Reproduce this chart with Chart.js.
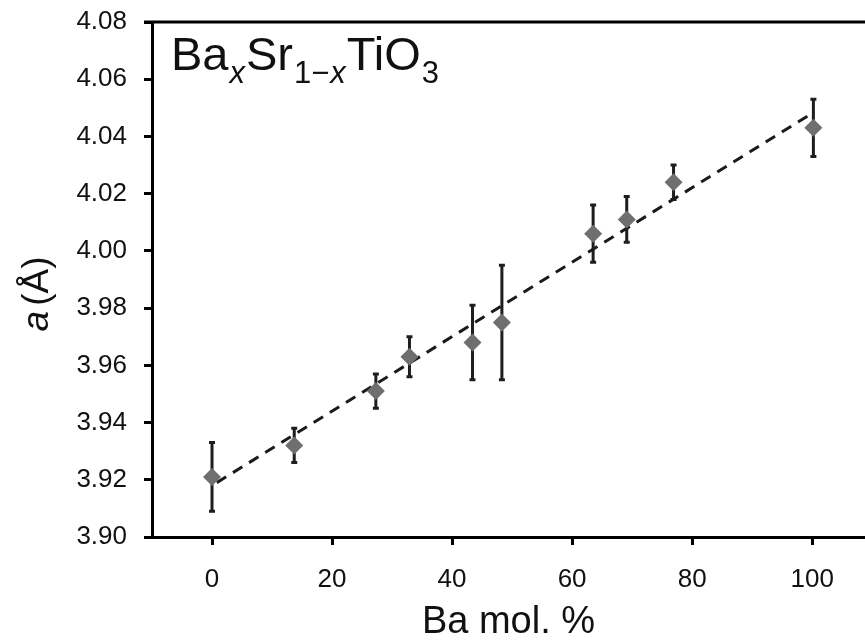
<!DOCTYPE html>
<html>
<head>
<meta charset="utf-8">
<script src="https://cdn.jsdelivr.net/npm/chart.js@4"></script>
<style>
   html, body { margin: 0; padding: 0; background: #ffffff; }
   #wrap { width: 865px; height: 642px; position: relative; }
</style>
</head>
<body>
<div id="wrap"><canvas id="chart"></canvas></div>
<script>
const baMol = [0, 13.7, 27.3, 32.9, 43.4, 48.3, 63.5, 69.1, 76.9, 100.2];
const latticeA = [3.921, 3.932, 3.951, 3.963, 3.968, 3.975, 4.006, 4.011, 4.024, 4.043];
const errHigh = [3.933, 3.938, 3.957, 3.970, 3.981, 3.995, 4.016, 4.019, 4.030, 4.053];
const errLow = [3.909, 3.926, 3.945, 3.956, 3.955, 3.955, 3.996, 4.003, 4.018, 4.033];

const fitX = [0.8, 99.9];
const fitY = [3.919, 4.048];

const xTicks = [0, 20, 40, 60, 80, 100];
const yTicks = [3.90, 3.92, 3.94, 3.96, 3.98, 4.00, 4.02, 4.04, 4.06, 4.08];

const FONT = "'Liberation Sans', Arial, sans-serif";

// error bars, drawn under the diamonds
const errorBars = {
   id: "errorBars",
   beforeDatasetsDraw(chart) {
      const { ctx, scales } = chart;
      ctx.save();
      ctx.strokeStyle = "#1e1e1e";
      ctx.lineWidth = 3;
      baMol.forEach((v, i) => {
         const x = scales.x.getPixelForValue(v);
         const yh = scales.y.getPixelForValue(errHigh[i]);
         const yl = scales.y.getPixelForValue(errLow[i]);
         ctx.beginPath();
         ctx.moveTo(x, yh);
         ctx.lineTo(x, yl);
         ctx.moveTo(x - 3, yh);
         ctx.lineTo(x + 3, yh);
         ctx.moveTo(x - 3, yl);
         ctx.lineTo(x + 3, yl);
         ctx.stroke();
      });
      ctx.restore();
   }
};

// frame top line, formula label and rotated y title
const decorations = {
   id: "decorations",
   afterDraw(chart) {
      const { ctx, chartArea } = chart;
      ctx.save();
      ctx.strokeStyle = "#000";
      ctx.lineWidth = 3;
      ctx.beginPath();
      ctx.moveTo(chartArea.left - 8, chartArea.top);
      ctx.lineTo(chartArea.right, chartArea.top);
      ctx.stroke();

      // Ba_x Sr_1-x TiO_3
      const parts = [
         { t: "Ba", f: "47px " + FONT, dy: 0 },
         { t: "x", f: "italic 31px " + FONT, dy: 13 },
         { t: "Sr", f: "47px " + FONT, dy: 0 },
         { t: "1\u2212", f: "31px " + FONT, dy: 13 },
         { t: "x", f: "italic 31px " + FONT, dy: 13 },
         { t: "TiO", f: "47px " + FONT, dy: 0 },
         { t: "3", f: "31px " + FONT, dy: 13 }
      ];
      let px = 171;
      const base = 70;
      ctx.fillStyle = "#111";
      ctx.textBaseline = "alphabetic";
      ctx.textAlign = "left";
      for (const p of parts) {
         ctx.font = p.f;
         ctx.fillText(p.t, px, base + p.dy);
         px += ctx.measureText(p.t).width + 1;
      }

      // y axis title: italic a + (Å)
      ctx.translate(48, 294);
      ctx.rotate(-Math.PI / 2);
      ctx.font = "italic 37px " + FONT;
      const w1 = ctx.measureText("a").width + 5;
      ctx.font = "37px " + FONT;
      const w2 = ctx.measureText("(\u00C5)").width;
      let sx = -(w1 + w2) / 2;
      ctx.font = "italic 37px " + FONT;
      ctx.fillText("a", sx, 0);
      ctx.font = "37px " + FONT;
      ctx.fillText("(\u00C5)", sx + w1, 0);
      ctx.restore();
   }
};

new Chart(document.getElementById("chart"), {
   type: "scatter",
   data: {
      datasets: [
         {
            data: baMol.map((v, i) => ({ x: v, y: latticeA[i] })),
            pointStyle: "rectRot",
            pointRadius: 9,
            pointBackgroundColor: "#6f6f6f",
            pointBorderWidth: 0,
            showLine: false
         },
         {
            type: "line",
            data: fitX.map((v, i) => ({ x: v, y: fitY[i] })),
            borderColor: "#1a1a1a",
            borderWidth: 3,
            borderDash: [11, 8],
            pointRadius: 0,
            fill: false
         }
      ]
   },
   options: {
      responsive: true,
      maintainAspectRatio: false,
      animation: false,
      layout: { autoPadding: false, padding: { top: 22, right: 0, left: 0, bottom: 0 } },
      plugins: {
         legend: { display: false },
         tooltip: { enabled: false }
      },
      scales: {
         x: {
            type: "linear",
            min: -10,
            max: 108.8,
            afterFit: s => { s.height = 105; s.paddingLeft = 0; s.paddingRight = 0; },
            afterBuildTicks: s => { s.ticks = xTicks.map(v => ({ value: v })); },
            grid: { display: true, drawOnChartArea: false, drawTicks: true, tickLength: 8, color: "#000", lineWidth: 3 },
            border: { display: true, color: "#000", width: 3 },
            ticks: { color: "#111", font: { family: FONT, size: 26 }, padding: 19 },
            title: {
               display: true,
               text: "Ba mol. %",
               color: "#111",
               font: { family: FONT, size: 38, lineHeight: 1.0 },
               padding: { top: 0, bottom: 0 }
            }
         },
         y: {
            type: "linear",
            min: 3.90,
            max: 4.08,
            afterFit: s => { s.width = 152; s.paddingTop = 0; s.paddingBottom = 0; },
            afterBuildTicks: s => { s.ticks = yTicks.map(v => ({ value: v })); },
            grid: { display: true, drawOnChartArea: false, drawTicks: true, tickLength: 8, color: "#000", lineWidth: 3 },
            border: { display: true, color: "#000", width: 3 },
            ticks: { color: "#111", font: { family: FONT, size: 26 }, padding: 17, callback: v => v.toFixed(2) }
         }
      }
   },
   plugins: [errorBars, decorations]
});
</script>
</body>
</html>
